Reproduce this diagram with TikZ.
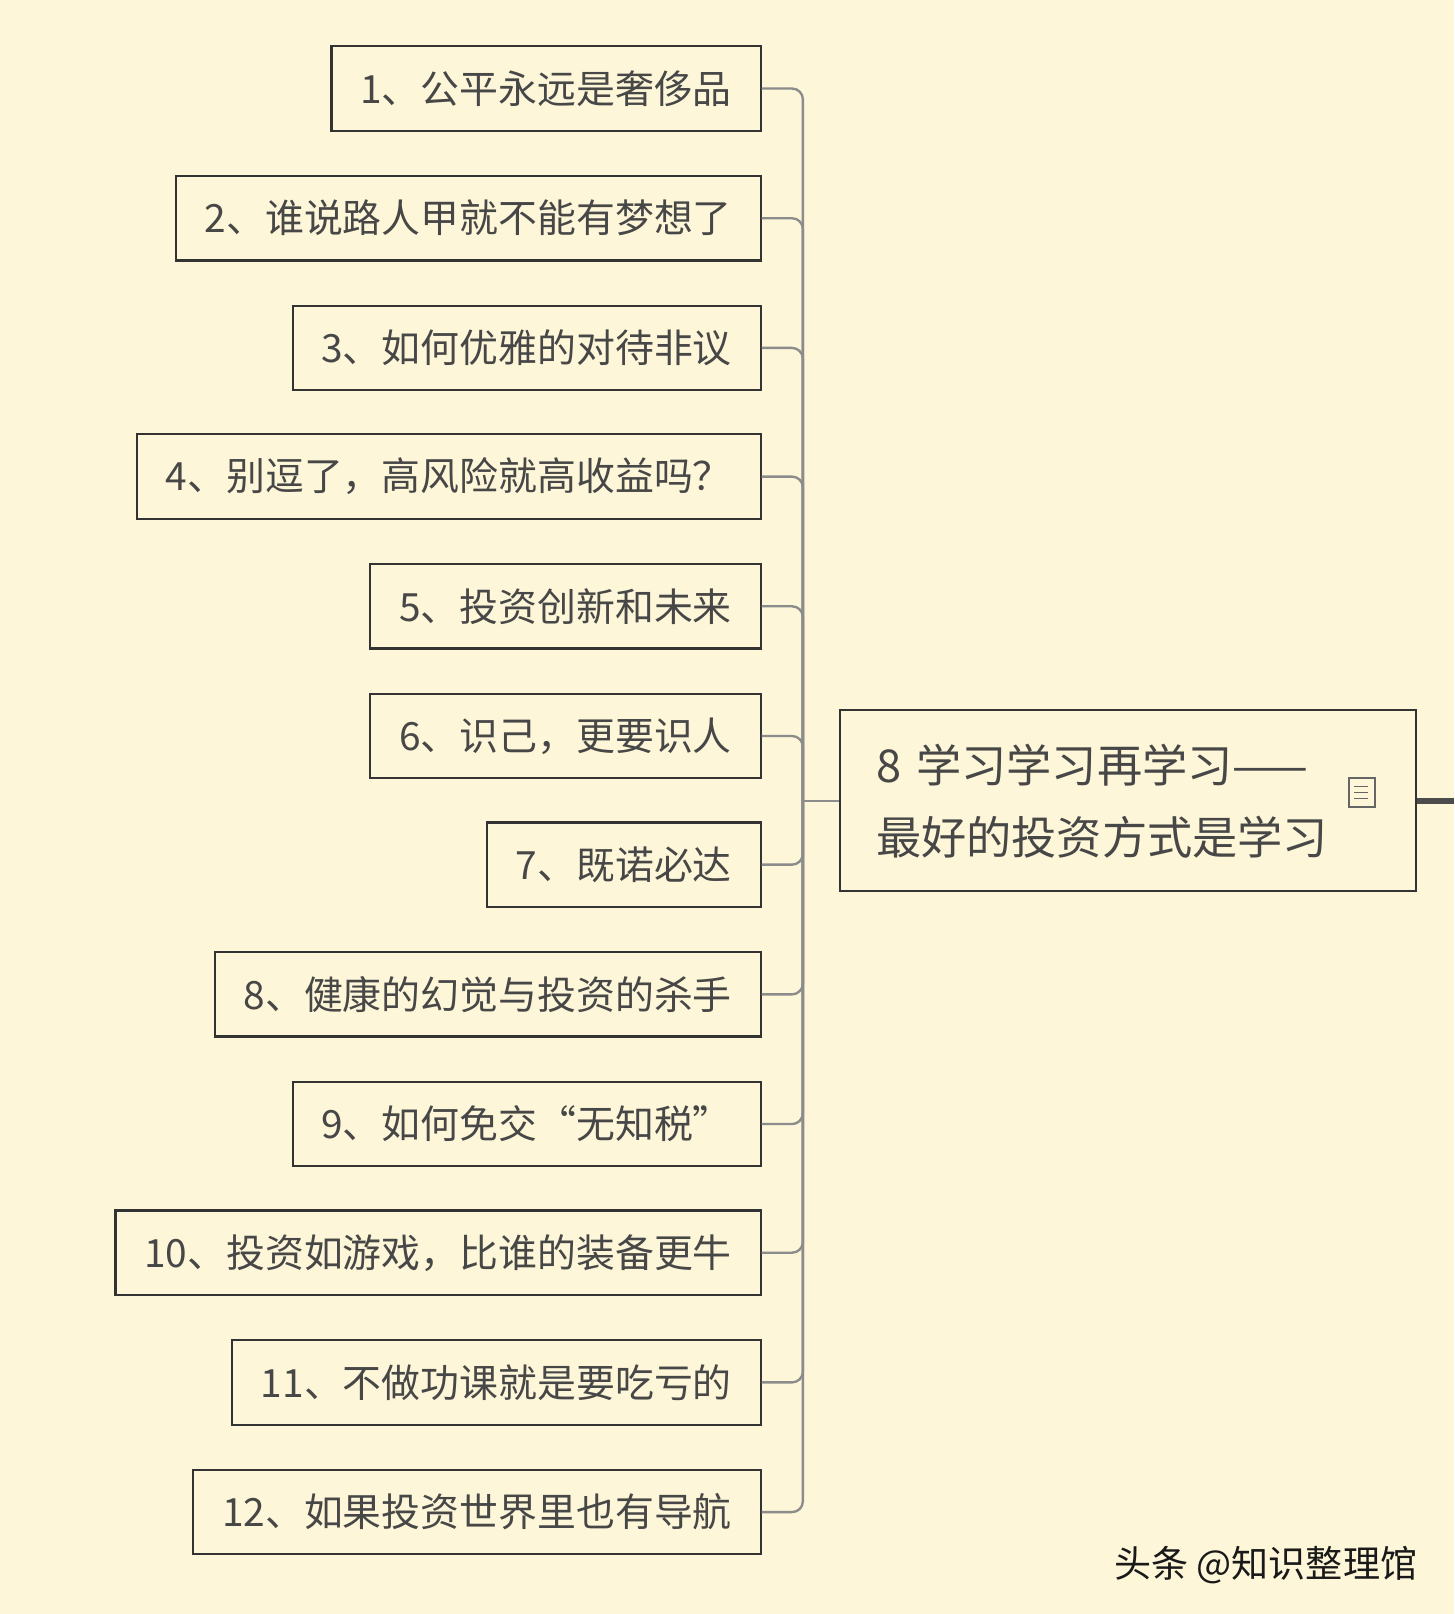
\documentclass[tikz,border=0pt]{standalone}
\usepackage{fontspec}
\setmainfont{Noto Sans CJK SC}
\begin{document}
\begin{tikzpicture}[x=0.02cm,y=-0.02cm,
  topic/.style={draw=black!80,line width=1.2pt,fill=bgc,text=black!72,font=\fontsize{21.5}{26}\selectfont,minimum height=1.64cm,inner xsep=0.56cm,anchor=east},
  conn/.style={draw=black!45,line width=1.3pt,rounded corners=6pt}]
\definecolor{bgc}{HTML}{FDF6D8}
\fill[bgc] (0,0) rectangle (1413,1568);
\useasboundingbox (0,0) rectangle (1413,1568);
\coordinate (spine) at (780,778);
\foreach \i/\y/\t in {1/86/{1、公平永远是奢侈品},2/212/{2、谁说路人甲就不能有梦想了},3/338/{3、如何优雅的对待非议},4/463/{4、别逗了，高风险就高收益吗？},5/589/{5、投资创新和未来},6/715/{6、识己，更要识人},7/840/{7、既诺必达},8/966/{8、健康的幻觉与投资的杀手},9/1092/{9、如何免交“无知税”},10/1217/{10、投资如游戏，比谁的装备更牛},11/1343/{11、不做功课就是要吃亏的},12/1469/{12、如果投资世界里也有导航}}{
  \node[topic] (t\i) at (740,\y) {\t};
  \draw[conn] (t\i.east) -| (spine);
}
\node[draw=black!80,line width=1.2pt,fill=bgc,text=black!72,font=\fontsize{25}{40}\selectfont,align=left,anchor=west,minimum width=11.2cm,minimum height=3.52cm,inner xsep=0.64cm,text width=9.8cm] (main) at (815,778) {8 学习学习再学习——\\最好的投资方式是学习};
\draw[conn] (spine) -- (main.west);
\node[draw=black!60,line width=1pt,minimum width=0.5cm,minimum height=0.56cm,inner sep=0pt] (icon) at (1323,770) {};
\foreach \k in {-0.12,0,0.12}{\draw[black!60,line width=0.8pt] ([xshift=-0.15cm,yshift=\k cm]icon.center) -- ([xshift=0.12cm,yshift=\k cm]icon.center);}
\coordinate (out) at (1413,778);
\draw[black!70,line width=3pt] (main.east) -- (out);
\node[anchor=east,text=black!90,font=\fontsize{20.5}{24}\selectfont] (wm) at (1383,1520) {头条 @知识整理馆};
\end{tikzpicture}
\end{document}
